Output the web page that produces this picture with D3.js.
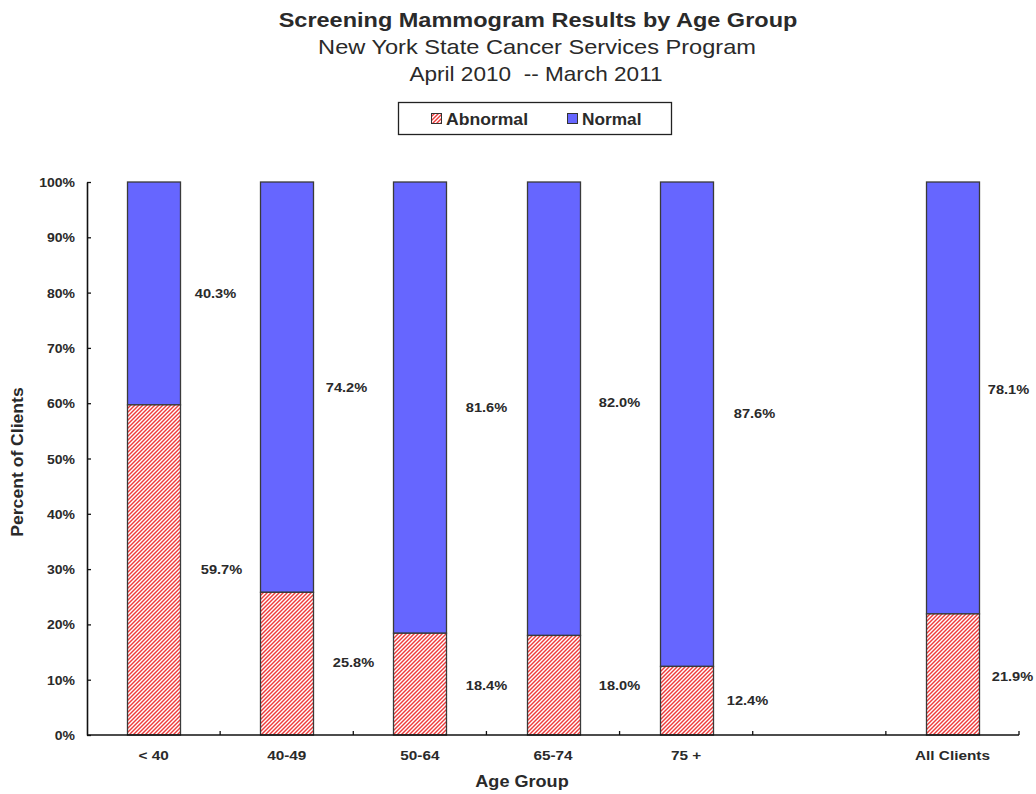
<!DOCTYPE html>
<html>
<head>
<meta charset="utf-8">
<script src="https://cdn.jsdelivr.net/npm/d3@7"></script>
<style>
body{margin:0;background:#fff;}
text{font-family:"Liberation Sans",Arial,sans-serif;fill:#2a2a2a;}
</style>
</head>
<body>
<div class="chart"></div>
<script>
// data
var groups=['< 40','40-49','50-64','65-74','75 +','','All Clients'];
var abnormal=[59.7,25.8,18.4,18.0,12.4,null,21.9];
var normal=[40.3,74.2,81.6,82.0,87.6,null,78.1];
var yTicks=[0,10,20,30,40,50,60,70,80,90,100];

//标签微调(布局)
var normDx=[35,33,40,39,41,0,29],normDy=[0,0,0,-6,-11,0,-8];
var abnDx=[41,40,40,39,34,0,33],abnDy=[0,-1,1,0,0,0,2];

var width=1036,height=794;
var svg=d3.select('div.chart')
		.append('svg')
		.attr('width',width)
		.attr('height',height);

//横向拉伸的文字
function txt(parent,x,y,str,size,bold,sx,anchor,rot){
	var t=parent.append('text')
		.attr('transform','translate('+x+','+y+')'+(rot?' rotate('+rot+')':'')+' scale('+sx+',1)')
		.attr('text-anchor',anchor||'middle')
		.style('font-size',size+'px')
		.style('font-weight',bold?'bold':'normal')
		.attr('xml:space','preserve')
		.text(str);
	return t;
}

//斜线图案
var defs=svg.append('defs');
var pat=defs.append('pattern')
		.attr('id','hatch')
		.attr('patternUnits','userSpaceOnUse')
		.attr('width',4)
		.attr('height',4);
pat.append('rect').attr('width',4).attr('height',4).attr('fill','#ffffff');
pat.append('polygon')
	.attr('points','0,4 0,3 3,0 4,0 4,1 1,4')
	.attr('fill','#ee3b3b');
pat.append('polygon')
	.attr('points','3,4 4,3 4,4')
	.attr('fill','#ee3b3b');
pat.append('polygon')
	.attr('points','0,0 1,0 0,1')
	.attr('fill','#ee3b3b');

var pLeft=87,pRight=1019,pTop=182,pBottom=735;
var x=d3.scaleBand().domain(d3.range(groups.length)).range([pLeft,pRight]);
var y=d3.scaleLinear().domain([0,100]).range([pBottom,pTop]);
var barW=53;

//标题
txt(svg,538,27,'Screening Mammogram Results by Age Group',20,true,1.175);
txt(svg,537,54,'New York State Cancer Services Program',20,false,1.18);
txt(svg,536,81,'April 2010  -- March 2011',20,false,1.13);

//图例
var lg=svg.append('g');
lg.append('rect').attr('x',398.5).attr('y',102.5).attr('width',273).attr('height',32)
	.attr('fill','#fff').attr('stroke','#222').attr('stroke-width',1.3);
lg.append('rect').attr('x',431.5).attr('y',113.5).attr('width',10).attr('height',10)
	.attr('fill','url(#hatch)').attr('stroke','#333');
txt(lg,446,125,'Abnormal',16,true,1.1,'start');
lg.append('rect').attr('x',567.5).attr('y',113.5).attr('width',10).attr('height',10)
	.attr('fill','#6666ff').attr('stroke','#333');
txt(lg,582,125,'Normal',16,true,1.08,'start');

//柱子
var bars=svg.append('g');
groups.forEach(function(g,i){
	if(abnormal[i]==null)return;
	var cx=x(i)+x.bandwidth()/2;
	var x0=Math.round(cx-barW/2)+0.5;
	bars.append('rect')
		.attr('x',x0).attr('y',y(100))
		.attr('width',barW).attr('height',y(abnormal[i])-y(100))
		.attr('fill','#6666ff').attr('stroke','#3a3a3a').attr('stroke-width',1.3);
	bars.append('rect')
		.attr('x',x0).attr('y',y(abnormal[i]))
		.attr('width',barW).attr('height',y(0)-y(abnormal[i]))
		.attr('fill','url(#hatch)').attr('stroke','#3a3a3a').attr('stroke-width',1.3);
	//数值标签
	txt(bars,x0+barW+normDx[i],(y(100)+y(abnormal[i]))/2+4.5+normDy[i],
		normal[i].toFixed(1)+'%',12.5,true,1.17);
	txt(bars,x0+barW+abnDx[i],(y(abnormal[i])+y(0))/2+4.5+abnDy[i],
		abnormal[i].toFixed(1)+'%',12.5,true,1.17);
});

//坐标轴
var yAxis=svg.append('g')
	.attr('transform','translate('+pLeft+',0)')
	.call(d3.axisLeft(y).tickValues(yTicks).tickSizeInner(-4).tickSizeOuter(0)
		.tickFormat(''));
yAxis.select('.domain').attr('stroke','#111').attr('stroke-width',1.6);
yAxis.selectAll('.tick line').attr('stroke','#111').attr('stroke-width',1.3);
yAxis.selectAll('.tick').each(function(d){
	txt(d3.select(this),-12,4.5,d+'%',12.5,true,1.12,'end');
});

var xAxis=svg.append('g')
	.attr('transform','translate(0,'+pBottom+')');
xAxis.append('line').attr('x1',pLeft).attr('x2',pRight).attr('y1',0).attr('y2',0)
	.attr('stroke','#111').attr('stroke-width',1.6);
d3.range(1,groups.length+1).forEach(function(i){
	var xx=i<groups.length?x(i):x(groups.length-1)+x.bandwidth();
	xAxis.append('line').attr('x1',xx).attr('x2',xx).attr('y1',0).attr('y2',-4)
		.attr('stroke','#111').attr('stroke-width',1.3);
});
groups.forEach(function(d,i){
	txt(xAxis,x(i)+x.bandwidth()/2,25,d,13,true,1.18);
});

txt(svg,522,787,'Age Group',16,true,1.13);
txt(svg,23,462,'Percent of Clients',16,true,1.1,'middle',-90);
</script>
</body>
</html>
